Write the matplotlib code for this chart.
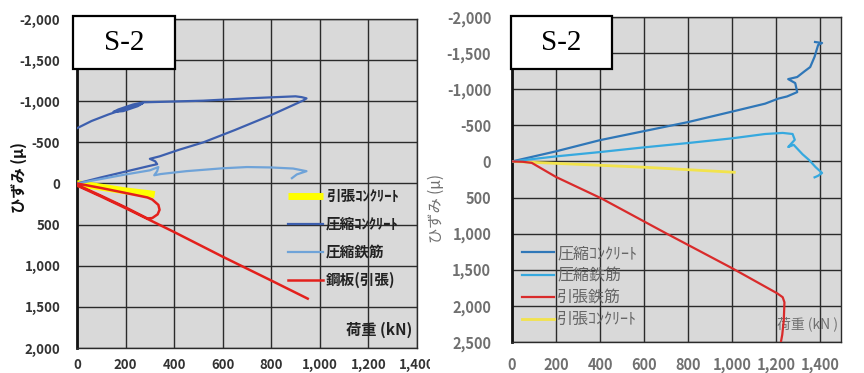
import matplotlib
matplotlib.use("Agg")
import matplotlib.pyplot as plt
from matplotlib.ticker import FuncFormatter
from matplotlib.patches import Rectangle
from matplotlib.transforms import Bbox, TransformedBbox

plt.rcParams['font.family'] = ['Noto Sans CJK JP', 'DejaVu Sans']
plt.rcParams['axes.unicode_minus'] = False

# ---------------- left panel: S-2 (steel plate) ----------------
L_tension_conc_load = [0, 100, 200, 300, 320]
L_tension_conc_strain = [0, 45, 90, 125, 135]

L_comp_conc_load = [0, 100, 200, 300, 330, 322, 300, 340, 420, 520, 650, 795, 880, 932, 945,
                    925, 900, 700, 520, 350, 273, 230, 170, 150, 190, 250, 270, 200, 130, 60, 0]
L_comp_conc_strain = [0, -75, -145, -215, -235, -270, -300, -330, -410, -500, -650, -826, -940,
                      -1010, -1035, -1050, -1060, -1035, -1007, -993, -987, -960, -900, -870,
                      -880, -940, -975, -910, -840, -760, -672]

L_comp_bar_load = [0, 100, 200, 300, 335, 330, 318, 345, 450, 600, 700, 800, 890, 945, 905, 885]
L_comp_bar_strain = [0, -55, -110, -160, -200, -150, -100, -115, -150, -185, -200, -195, -182,
                     -150, -110, -65]

L_plate_load = [0, 100, 200, 290, 310, 335, 340, 332, 310, 290, 200, 100, 0,
                0, 100, 200, 300, 400, 600, 800, 950]
L_plate_strain = [0, 55, 115, 170, 195, 260, 320, 375, 420, 425, 290, 150, 15,
                  25, 160, 300, 445, 590, 890, 1180, 1400]

# ---------------- right panel: S-2 (rebar) ----------------
R_comp_conc_load = [0, 200, 400, 600, 800, 1000, 1150, 1210, 1250, 1296, 1287, 1255, 1296, 1330,
                    1355, 1375, 1391, 1409, 1377]
R_comp_conc_strain = [0, -140, -295, -420, -545, -690, -800, -870, -900, -960, -1085, -1140,
                      -1169, -1250, -1307, -1450, -1612, -1640, -1654]

R_comp_bar_load = [0, 200, 400, 600, 800, 1000, 1150, 1230, 1275, 1285, 1270, 1255, 1280, 1320,
                   1350, 1380, 1409, 1390, 1375]
R_comp_bar_strain = [0, -70, -130, -195, -255, -320, -380, -395, -380, -300, -250, -200, -230,
                     -100, -20, 80, 160, 200, 220]

R_tens_bar_load = [0, 50, 90, 200, 405, 700, 1000, 1205, 1230, 1238, 1235, 1228, 1222]
R_tens_bar_strain = [0, 5, 20, 215, 510, 995, 1478, 1826, 1880, 1950, 2200, 2400, 2500]

R_tension_conc_load = [0, 300, 600, 1010]
R_tension_conc_strain = [0, 40, 80, 150]

x_ticks = [0, 200, 400, 600, 800, 1000, 1200, 1400]
L_y_ticks = [-2000, -1500, -1000, -500, 0, 500, 1000, 1500, 2000]
R_y_ticks = [-2000, -1500, -1000, -500, 0, 500, 1000, 1500, 2000, 2500]

W, H = 864, 373
fig = plt.figure(figsize=(W / 100, H / 100), dpi=100)


def fig_rect(x0, y0, x1, y1):
    return [x0 / W, 1 - y1 / H, (x1 - x0) / W, (y1 - y0) / H]


comma = FuncFormatter(lambda v, p: f"{v:,.0f}")


def style_axes(ax, xmax, ylo, yhi, yticks, tick_color, tick_size, xpad, ypad):
    ax.set_facecolor('#d9d9d9')
    ax.set_xlim(0, xmax)
    ax.set_ylim(yhi, ylo)
    ax.set_xticks(x_ticks)
    ax.set_yticks(yticks)
    ax.xaxis.set_major_formatter(comma)
    ax.yaxis.set_major_formatter(comma)
    ax.grid(True, color='#2b2b2b', linewidth=1.0)
    ax.set_axisbelow(True)
    for s in ax.spines.values():
        s.set_color('#2b2b2b')
        s.set_linewidth(1.0)
    ax.spines['left'].set_linewidth(2.0)
    ax.spines['left'].set_color('#111111')
    ax.tick_params(length=0, labelsize=tick_size, labelcolor=tick_color)
    ax.tick_params(axis='x', pad=xpad)
    ax.tick_params(axis='y', pad=ypad)
    for lab in ax.get_xticklabels() + ax.get_yticklabels():
        lab.set_fontweight('bold')


# left axes
axL = fig.add_axes(fig_rect(77, 19, 417, 348))
style_axes(axL, 1400, -2000, 2000, L_y_ticks, '#333333', 9.5, 7, 12)
axL.plot(L_tension_conc_load, L_tension_conc_strain, color='#ffff00', lw=5,
         solid_capstyle='butt', label='引張ｺﾝｸﾘｰﾄ', zorder=3)
axL.plot(L_comp_conc_load, L_comp_conc_strain, color='#3d5fae', lw=1.6,
         label='圧縮ｺﾝｸﾘｰﾄ', zorder=4)
axL.plot(L_comp_bar_load, L_comp_bar_strain, color='#6fa3d8', lw=1.6,
         label='圧縮鉄筋', zorder=4)
axL.plot(L_plate_load, L_plate_strain, color='#e3201c', lw=1.8,
         label='鋼板(引張)', zorder=5)
axL.set_ylabel('ひずみ (μ)', fontsize=11, fontweight='bold', color='#111111')
axL.yaxis.set_label_coords(-0.147, 0.517)
axL.text(0.985, 0.055, '荷重 (kN)', transform=axL.transAxes, ha='right', va='center',
         fontsize=11, fontweight='bold', color='#222222')
legL = axL.legend(loc='upper left', bbox_to_anchor=(288 / W, 1 - 188 / H),
                  bbox_transform=fig.transFigure, frameon=False, borderpad=0,
                  borderaxespad=0, handlelength=2.4, handletextpad=0.2,
                  labelspacing=0.82, prop={'size': 10.5, 'weight': 'bold'})
for t in legL.get_texts():
    t.set_color('#222222')

# the last x label of the left panel is cut off at the panel edge
clip = TransformedBbox(Bbox([[0, 0], [430 / W, 1]]), fig.transFigure)
for lab in axL.get_xticklabels():
    lab.set_clip_box(clip)
    lab.set_clip_on(True)

# right axes
axR = fig.add_axes(fig_rect(512, 17, 841, 342))
style_axes(axR, 1495, -2000, 2500, R_y_ticks, '#707070', 10.5, 10.5, 15)
axR.plot(R_comp_conc_load, R_comp_conc_strain, color='#2f77b8', lw=1.6,
         label='圧縮ｺﾝｸﾘｰﾄ', zorder=4)
axR.plot(R_comp_bar_load, R_comp_bar_strain, color='#36a9df', lw=1.6,
         label='圧縮鉄筋', zorder=4)
axR.plot(R_tens_bar_load, R_tens_bar_strain, color='#d92b2b', lw=1.6,
         label='引張鉄筋', zorder=4)
axR.plot(R_tension_conc_load, R_tension_conc_strain, color='#f2e34c', lw=2.0,
         label='引張ｺﾝｸﾘｰﾄ', zorder=3)
axR.set_ylabel('ひずみ (μ)', fontsize=11, color='#707070')
axR.yaxis.set_label_coords(-0.204, 0.412)
axR.text(0.99, 0.055, '荷重 (kN )', transform=axR.transAxes, ha='right', va='center',
         fontsize=10, color='#707070')
legR = axR.legend(loc='upper left', bbox_to_anchor=(522 / W, 1 - 245 / H),
                  bbox_transform=fig.transFigure, frameon=False, borderpad=0,
                  borderaxespad=0, handlelength=2.0, handletextpad=0.2,
                  labelspacing=0.32, prop={'size': 11.5})
for t in legR.get_texts():
    t.set_color('#666666')

# specimen name boxes
for (x0, y0, x1, y1) in [(73, 16, 175, 69), (511, 16, 612, 69)]:
    r = fig_rect(x0, y0, x1, y1)
    fig.patches.append(Rectangle((r[0], r[1]), r[2], r[3], transform=fig.transFigure,
                                 facecolor='white', edgecolor='black', linewidth=1.6,
                                 zorder=10))
    fig.text(r[0] + r[2] / 2, r[1] + r[3] / 2, 'S-2', ha='center', va='center',
             family='Liberation Serif', fontsize=21, color='black', zorder=11)

fig.savefig('out.png', dpi=100)
